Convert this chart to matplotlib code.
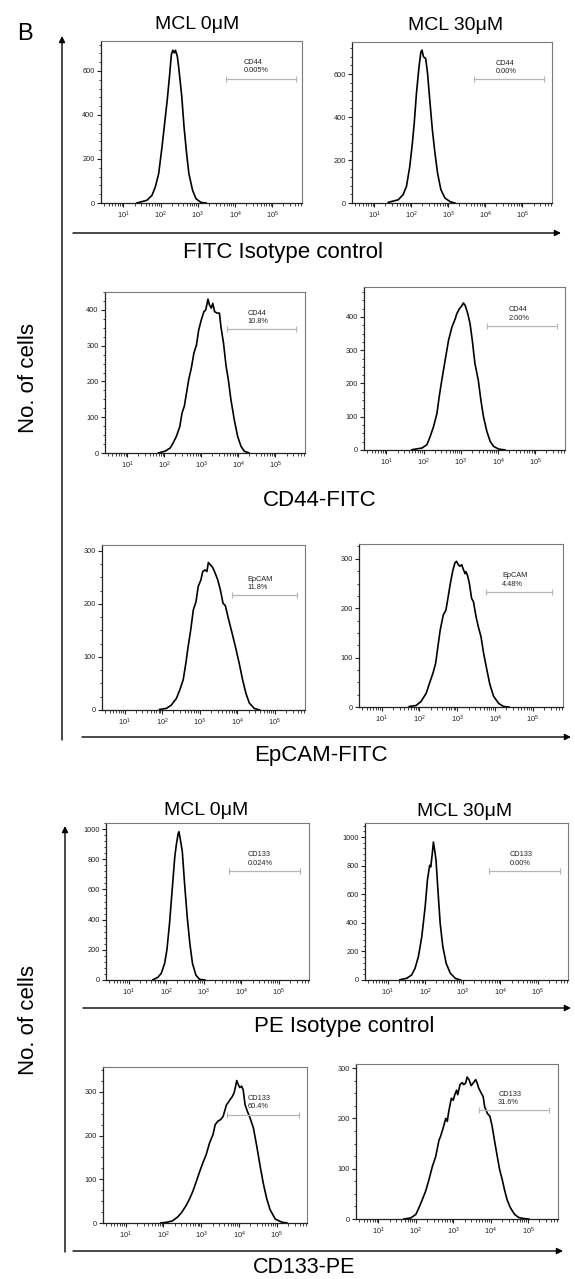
import numpy as np
import matplotlib
matplotlib.use('Agg')
import matplotlib.pyplot as plt
from matplotlib.ticker import FixedLocator, MultipleLocator, LogLocator, NullFormatter, FuncFormatter

plt.rcParams['font.family'] = ['Liberation Sans', 'DejaVu Sans']
plt.rcParams['mathtext.fontset'] = 'custom'
plt.rcParams['mathtext.rm'] = 'Liberation Sans'
plt.rcParams['mathtext.it'] = 'Liberation Sans'
plt.rcParams['mathtext.bf'] = 'Liberation Sans'

# ---------------- data (log10 fluorescence, cell counts) ----------------
conditions = ['MCL 0μM', 'MCL 30μM']
markers = ['FITC Isotype control', 'CD44-FITC', 'EpCAM-FITC', 'PE Isotype control', 'CD133-PE']
decade_ticks = [1, 2, 3, 4, 5]

fitc_iso_0_logx = [1.36, 1.63, 1.77, 1.86, 1.95, 2.04, 2.10, 2.18, 2.24, 2.29, 2.33, 2.37, 2.40, 2.45,
                   2.49, 2.57, 2.63, 2.70, 2.76, 2.86, 2.95, 3.08, 3.22]
fitc_iso_0_cnt = [0, 12, 35, 73, 134, 256, 347, 469, 575, 674, 694, 682, 694, 667,
                  613, 484, 347, 225, 134, 58, 20, 3, 0]
fitc_iso_30_logx = [1.38, 1.65, 1.78, 1.87, 1.96, 2.03, 2.08, 2.14, 2.21, 2.26, 2.29, 2.33, 2.39, 2.44,
                    2.50, 2.57, 2.64, 2.71, 2.80, 2.91, 3.05, 3.18]
fitc_iso_30_cnt = [3, 15, 39, 77, 170, 278, 371, 510, 634, 703, 711, 680, 672, 603,
                   479, 340, 232, 139, 62, 23, 6, 0]

cd44_0_logx = [1.84, 2.02, 2.16, 2.24, 2.33, 2.42, 2.48, 2.54, 2.60, 2.66, 2.73, 2.80, 2.87, 2.93, 3.00,
               3.07, 3.12, 3.18, 3.22, 3.27, 3.31, 3.36, 3.43, 3.49, 3.53, 3.60, 3.67, 3.73, 3.80,
               3.89, 3.98, 4.07, 4.16, 4.29]
cd44_0_cnt = [0, 5, 14, 28, 47, 74, 112, 130, 167, 205, 237, 279, 302, 344, 372,
              395, 400, 430, 414, 405, 418, 395, 391, 391, 353, 307, 242, 205, 149,
              93, 47, 19, 5, 0]
cd44_30_logx = [1.69, 1.96, 2.09, 2.18, 2.27, 2.36, 2.42, 2.49, 2.58, 2.67, 2.76, 2.85, 2.89, 2.96,
                3.03, 3.07, 3.12, 3.19, 3.25, 3.31, 3.38, 3.47, 3.54, 3.61, 3.70, 3.79, 3.88,
                4.01, 4.19]
cd44_30_cnt = [1, 6, 16, 41, 71, 110, 160, 210, 270, 329, 369, 394, 409, 424,
               434, 442, 434, 409, 379, 329, 260, 210, 150, 100, 56, 26, 11, 3, 0]

epcam_0_logx = [1.93, 2.11, 2.24, 2.38, 2.47, 2.56, 2.63, 2.69, 2.76, 2.83, 2.90, 2.96, 3.03, 3.08,
                3.14, 3.19, 3.23, 3.28, 3.35, 3.41, 3.48, 3.55, 3.62, 3.68, 3.77, 3.86, 3.95,
                4.05, 4.14, 4.23, 4.32, 4.45, 4.59]
epcam_0_cnt = [1, 3, 9, 22, 38, 57, 88, 119, 151, 189, 204, 233, 245, 261,
               264, 261, 278, 274, 268, 258, 245, 226, 201, 197, 170, 145, 119,
               88, 57, 31, 13, 3, 0]
epcam_30_logx = [1.73, 1.91, 2.04, 2.18, 2.27, 2.36, 2.43, 2.49, 2.55, 2.63, 2.70, 2.76, 2.82, 2.88,
                 2.94, 2.98, 3.03, 3.07, 3.12, 3.16, 3.21, 3.23, 3.27, 3.32, 3.38, 3.43, 3.50,
                 3.56, 3.63, 3.70, 3.77, 3.86, 3.96, 4.10, 4.23, 4.37]
epcam_30_cnt = [1, 3, 11, 28, 49, 69, 89, 123, 156, 186, 196, 223, 251, 275,
                292, 295, 288, 285, 288, 279, 270, 274, 267, 251, 220, 213, 182,
                162, 142, 108, 81, 47, 22, 7, 1, 0]

pe_iso_0_logx = [1.65, 1.78, 1.87, 1.96, 2.02, 2.09, 2.16, 2.23, 2.27, 2.32, 2.34, 2.38, 2.43, 2.49,
                 2.56, 2.63, 2.70, 2.79, 2.89, 3.03]
pe_iso_0_cnt = [2, 18, 44, 110, 199, 375, 596, 817, 894, 971, 982, 927, 850, 640,
                419, 243, 110, 33, 4, 0]
pe_iso_30_logx = [1.33, 1.51, 1.64, 1.73, 1.82, 1.91, 2.00, 2.06, 2.12, 2.15, 2.19, 2.22, 2.26, 2.29,
                  2.34, 2.40, 2.47, 2.56, 2.67, 2.80, 2.94]
pe_iso_30_cnt = [2, 12, 35, 81, 163, 302, 512, 698, 802, 791, 884, 965, 895, 837,
                 628, 395, 233, 116, 47, 12, 0]

cd133_0_logx = [1.93, 2.11, 2.24, 2.38, 2.48, 2.60, 2.69, 2.78, 2.87, 2.96, 3.04, 3.13, 3.22, 3.31,
                3.37, 3.44, 3.52, 3.58, 3.62, 3.67, 3.71, 3.76, 3.82, 3.87, 3.91, 3.94, 3.98,
                4.02, 4.07, 4.11, 4.16, 4.22, 4.29, 4.38, 4.47, 4.56, 4.64, 4.73, 4.82, 4.96,
                5.13, 5.27]
cd133_0_cnt = [0, 2, 5, 14, 24, 40, 55, 73, 95, 118, 137, 156, 183, 202,
               225, 233, 237, 244, 256, 271, 275, 282, 289, 298, 313, 326, 317,
               310, 313, 305, 271, 256, 241, 218, 176, 130, 92, 57, 31, 9,
               2, 0]
cd133_30_logx = [1.68, 1.86, 2.00, 2.08, 2.17, 2.26, 2.35, 2.44, 2.53, 2.62, 2.66, 2.73, 2.80, 2.84,
                 2.88, 2.95, 3.00, 3.04, 3.09, 3.12, 3.18, 3.24, 3.28, 3.33, 3.37, 3.42, 3.48,
                 3.53, 3.60, 3.64, 3.68, 3.75, 3.80, 3.84, 3.91, 3.98, 4.04, 4.10, 4.17, 4.24,
                 4.31, 4.37, 4.44, 4.53, 4.64, 4.75, 4.88, 5.02]
cd133_30_cnt = [0, 2, 9, 22, 38, 55, 78, 104, 124, 157, 164, 181, 200, 194,
                214, 240, 236, 247, 256, 247, 267, 271, 267, 270, 282, 277, 265,
                270, 277, 270, 260, 250, 243, 223, 210, 204, 184, 157, 127, 98,
                78, 58, 38, 22, 9, 3, 1, 0]

gate_names = ['CD44', 'CD44', 'CD44', 'CD44', 'EpCAM', 'EpCAM', 'CD133', 'CD133', 'CD133', 'CD133']
gate_pcts = ['0.005%', '0.00%', '10.8%', '2.00%', '11.8%', '4.48%', '0.024%', '0.00%', '60.4%', '31.6%']
gate_lo = [3.76, 3.70, 3.69, 3.71, 3.85, 3.76, 3.67, 3.70, 3.67, 3.68]
gate_hi = [5.64, 5.59, 5.56, 5.59, 5.60, 5.52, 5.56, 5.60, 5.58, 5.55]
gate_y = [565, 575, 346, 373, 216, 233, 722, 763, 248, 216]

curves = [(fitc_iso_0_logx, fitc_iso_0_cnt), (fitc_iso_30_logx, fitc_iso_30_cnt),
          (cd44_0_logx, cd44_0_cnt), (cd44_30_logx, cd44_30_cnt),
          (epcam_0_logx, epcam_0_cnt), (epcam_30_logx, epcam_30_cnt),
          (pe_iso_0_logx, pe_iso_0_cnt), (pe_iso_30_logx, pe_iso_30_cnt),
          (cd133_0_logx, cd133_0_cnt), (cd133_30_logx, cd133_30_cnt)]

# ---------------- layout (pixels) ----------------
W, H = 575, 1279
boxes = [(101, 41, 302, 203), (352, 42, 552, 203),
         (105, 292, 305, 453), (364, 287, 565, 450),
         (102, 545, 305, 710), (359, 544, 563, 707),
         (106, 823, 309, 980), (365, 823, 568, 980),
         (103, 1067, 307, 1223), (356, 1064, 558, 1219)]
ymaxs = [736, 749, 450, 490, 311, 330, 1040, 1098, 357, 308]
ymajor = [200, 200, 100, 100, 100, 100, 200, 200, 100, 100]
yminor = [40, 40, 25, 25, 25, 25, 40, 40, 25, 25]
text_x = [4.24, 4.28, 4.24, 4.28, 4.27, 4.19, 4.16, 4.25, 4.22, 4.20]

fig = plt.figure(figsize=(W / 100, H / 100), dpi=100)
bg = fig.add_axes([0, 0, 1, 1])
bg.set_xlim(0, W)
bg.set_ylim(H, 0)
bg.axis('off')


def arrow(x0, y0, x1, y1):
    bg.annotate('', xy=(x1, y1), xytext=(x0, y0),
                arrowprops=dict(arrowstyle='-|>', lw=1.0, color='black',
                                mutation_scale=9, shrinkA=0, shrinkB=0))


# axes arrows
arrow(62, 740, 62, 36)
arrow(65, 1252, 65, 826)
arrow(73, 233, 561, 233)
arrow(88, 473, 577, 473)
arrow(82, 737, 571, 737)
arrow(83, 1008, 571, 1008)
arrow(73, 1251, 563, 1251)

big = 14
bg.text(17, 40, 'B', fontsize=17, ha='left', va='baseline')
bg.text(197, 29, conditions[0], fontsize=big, ha='center', va='baseline')
bg.text(456, 30, conditions[1], fontsize=big, ha='center', va='baseline')
bg.text(206, 815, conditions[0], fontsize=big, ha='center', va='baseline')
bg.text(465, 816, conditions[1], fontsize=big, ha='center', va='baseline')

lab = 16
bg.text(283, 258, markers[0], fontsize=lab, ha='center', va='baseline')
bg.text(320, 506, markers[1], fontsize=lab, ha='center', va='baseline')
bg.text(321, 761, markers[2], fontsize=lab, ha='center', va='baseline')
bg.text(344, 1032, markers[3], fontsize=lab, ha='center', va='baseline')
bg.text(304, 1273, markers[4], fontsize=15.5, ha='center', va='baseline')

bg.text(28, 378, 'No. of cells', fontsize=lab, rotation=90, ha='center', va='center')
bg.text(28, 1020, 'No. of cells', fontsize=lab, rotation=90, ha='center', va='center')

fmt = FuncFormatter(lambda v, p: r'$\mathregular{10^{%d}}$' % int(round(np.log10(v))))

for i, (x0, y0, x1, y1) in enumerate(boxes):
    ax = fig.add_axes([x0 / W, 1 - y1 / H, (x1 - x0) / W, (y1 - y0) / H])
    lx, cnt = curves[i]
    ax.plot(10 ** np.array(lx), cnt, color='black', lw=1.2, solid_joinstyle='round')
    ax.set_xscale('log')
    ax.set_xlim(10 ** 0.4, 10 ** 5.8)
    ax.set_ylim(0, ymaxs[i])
    ax.xaxis.set_major_locator(FixedLocator([10.0 ** d for d in decade_ticks]))
    ax.xaxis.set_minor_locator(LogLocator(base=10, subs=np.arange(2, 10), numticks=30))
    ax.xaxis.set_major_formatter(fmt)
    ax.xaxis.set_minor_formatter(NullFormatter())
    ax.yaxis.set_major_locator(MultipleLocator(ymajor[i]))
    ax.yaxis.set_minor_locator(MultipleLocator(yminor[i]))
    ax.tick_params(which='major', direction='out', length=3, width=0.8, labelsize=5.3,
                   pad=1.5, colors='#222222')
    ax.tick_params(which='minor', direction='out', length=1.8, width=0.6, colors='#222222')
    for s in ['top', 'right']:
        ax.spines[s].set_color('#7a7a7a')
        ax.spines[s].set_linewidth(0.8)
    for s in ['left', 'bottom']:
        ax.spines[s].set_color('#222222')
        ax.spines[s].set_linewidth(0.9)
    # gate
    gl, gh, gy = 10 ** gate_lo[i], 10 ** gate_hi[i], gate_y[i]
    ax.plot([gl, gh], [gy, gy], color='#b5b5b5', lw=0.9)
    ax.plot([gl, gh], [gy, gy], ls='none', marker='|', ms=4, mew=0.8, color='#b5b5b5')
    ax.annotate(gate_names[i] + '\n' + gate_pcts[i], xy=(10 ** text_x[i], gy), xytext=(0, 3),
                textcoords='offset points', fontsize=5.3, ha='left', va='bottom',
                linespacing=1.3, color='#222222')

fig.savefig('out.png', dpi=100)
